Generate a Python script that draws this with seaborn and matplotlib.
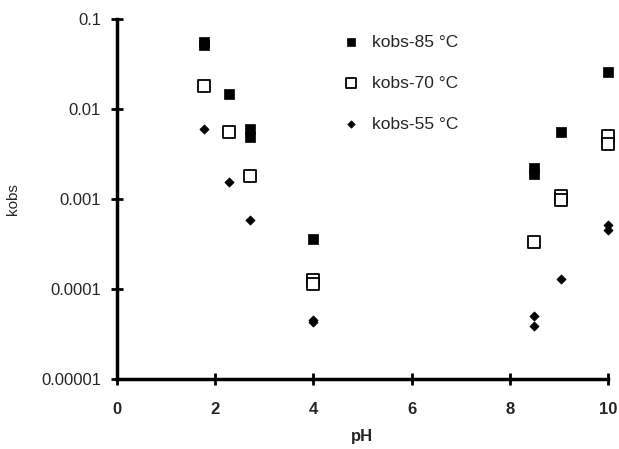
import matplotlib
matplotlib.use("Agg")
import matplotlib.pyplot as plt
import seaborn as sns

# kobs vs pH (duplicate runs at some pH values)
ph_85 = [1.78, 1.78, 2.29, 2.71, 2.71, 4.0, 8.5, 8.5, 9.05, 10.0]
k_85 = [0.051, 0.056, 0.0145, 0.006, 0.0049, 0.00036, 0.0022, 0.0019, 0.0056, 0.0257]

ph_70 = [1.78, 2.29, 2.71, 4.0, 4.0, 8.5, 9.05, 9.05, 10.0, 10.0]
k_70 = [0.0178, 0.0056, 0.0018, 0.000125, 0.000113, 0.00033, 0.00108, 0.00098, 0.005, 0.0041]

ph_55 = [1.78, 2.29, 2.71, 4.0, 4.0, 8.5, 8.5, 9.05, 10.0, 10.0]
k_55 = [0.006, 0.00155, 0.00059, 0.000045, 0.000043, 0.00005, 0.000039, 0.00013, 0.00051, 0.00045]

labels = ["kobs-85 \u00b0C", "kobs-70 \u00b0C", "kobs-55 \u00b0C"]
x_ticks = [0, 2, 4, 6, 8, 10]
y_ticks = [0.00001, 0.0001, 0.001, 0.01, 0.1]
y_ticklabels = ["0.00001", "0.0001", "0.001", "0.01", "0.1"]

sns.set_style("white")
plt.rcParams['font.family'] = ['Liberation Sans', 'DejaVu Sans']

fig = plt.figure(figsize=(6.19, 4.49), dpi=100)
ax = fig.add_axes([0.189, 0.156, 0.793, 0.802])

sns.scatterplot(x=ph_85, y=k_85, ax=ax, marker='s', s=55, color='black',
                edgecolor='black', linewidth=0.5, label=labels[0], clip_on=False, zorder=3)
sns.scatterplot(x=ph_70, y=k_70, ax=ax, marker='s', s=80, facecolor='white',
                edgecolor='black', linewidth=1.3, label=labels[1], clip_on=False, zorder=3)
sns.scatterplot(x=ph_55, y=k_55, ax=ax, marker='D', s=22, color='black',
                edgecolor='black', linewidth=0.5, label=labels[2], clip_on=False, zorder=3)

ax.set_yscale('log')
ax.set_xlim(0, 10)
ax.set_ylim(0.00001, 0.1)
ax.set_xticks(x_ticks)
ax.set_yticks(y_ticks)
ax.set_yticklabels(y_ticklabels)
ax.minorticks_off()
ax.tick_params(bottom=True, left=True, direction='inout', length=9, width=2,
               color='black', labelsize=12, pad=7)
ax.tick_params(axis='x', pad=12)
for lab in ax.get_xticklabels():
    lab.set_fontweight('bold')

sns.despine(ax=ax)
ax.spines['left'].set_linewidth(2.5)
ax.spines['bottom'].set_linewidth(2.5)
ax.spines['left'].set_color('black')
ax.spines['bottom'].set_color('black')

ax.set_xlabel('pH', fontsize=12, fontweight='bold', labelpad=9)
ax.set_ylabel('kobs', fontsize=11, labelpad=15)

ax.legend(loc='upper left', bbox_to_anchor=(0.41, 1.0), frameon=False,
          fontsize=12.5, labelspacing=1.5, handletextpad=0.2, markerscale=0.8)

fig.savefig('out.png', dpi=100)
